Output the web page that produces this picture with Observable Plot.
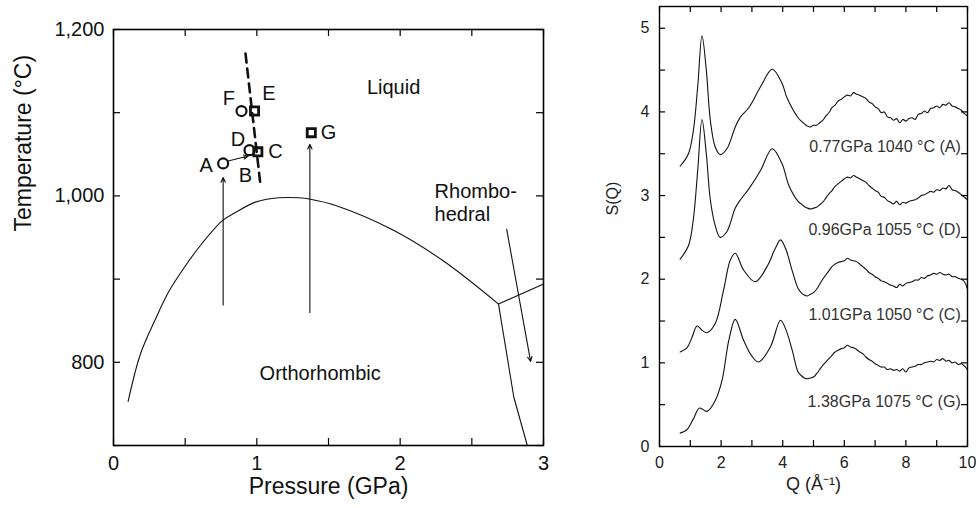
<!DOCTYPE html>
<html><head><meta charset="utf-8">
<script src="https://cdn.jsdelivr.net/npm/d3@7"></script>
<script src="https://cdn.jsdelivr.net/npm/@observablehq/plot@0.6"></script>
<style>
body{margin:0;background:#fff;}
#wrap{position:relative;width:976px;height:508px;overflow:hidden;background:#fff;}
#left{position:absolute;left:0;top:0;}
#right{position:absolute;left:580px;top:0;}
</style></head><body><div id="wrap"><div id="left"></div><div id="right"></div></div>
<script>
// ---------- Left panel data: phase diagram ----------
const meltP = [0.102, 0.188, 0.293, 0.386, 0.502, 0.595, 0.758, 0.851, 0.99, 1.154, 1.293, 1.375, 1.55, 1.95, 2.30, 2.686];
const meltT = [753, 810, 852, 885, 916, 938, 970, 980, 992.5, 997.7, 997.7, 996, 988.5, 959, 922, 870];
const rhomboLiqP = [2.686, 3.0];
const rhomboLiqT = [870, 894];
const orthoRhomboP = [2.686, 2.793, 2.887];
const orthoRhomboT = [870, 758, 700];
const dashP = [0.921, 1.026];
const dashT = [1171, 1012];
const circleP = [0.765, 0.949, 0.893];
const circleT = [1039, 1055, 1102];
const squareP = [1.007, 0.984, 1.38];
const squareT = [1053, 1102, 1076];
const letters = ["A", "B", "C", "D", "E", "F", "G"];
const letterP = [0.647, 0.92, 1.13, 0.868, 1.084, 0.805, 1.50];
const letterT = [1036, 1025, 1053, 1068, 1123, 1117, 1076];
const arrowP1 = [0.765, 1.37, 2.743, 0.80];
const arrowT1 = [869, 860, 960, 1042];
const arrowP2 = [0.765, 1.37, 2.91, 0.94];
const arrowT2 = [1022, 1062, 801, 1048];
const regionNames = ["Liquid", "Orthorhombic"];
const regionP = [1.954, 1.442];
const regionT = [1130, 786];
const pTicks = [0, 1, 2, 3];
const pMinor = [0, 0.5, 1, 1.5, 2, 2.5, 3];
const tTicks = [800, 1000, 1200];
const tMinor = [700, 800, 900, 1000, 1100, 1200];

// ---------- Right panel data: S(Q) ----------
// low-Q part of each curve
const qA_low = [0.67,0.94,1.10,1.24,1.38,1.52,1.65,1.81,1.97,2.19,2.46,2.63,2.90,3.28,3.66,3.98,4.14];
const sA_low = [3.35,3.50,3.78,4.30,4.91,4.50,3.90,3.58,3.49,3.56,3.82,3.94,4.05,4.30,4.51,4.34,4.17];
const qD_low = [0.67,0.94,1.10,1.24,1.38,1.52,1.65,1.81,1.97,2.19,2.46,2.63,2.90,3.28,3.66,3.98,4.2];
const sD_low = [2.24,2.40,2.72,3.30,3.91,3.50,2.95,2.64,2.50,2.57,2.85,2.95,3.08,3.30,3.56,3.38,3.12];
const qC_low = [0.67,0.89,1.05,1.22,1.38,1.54,1.81,2.08,2.30,2.46,2.73,3.11,3.49,3.75,3.93,4.1,4.31];
const sC_low = [1.13,1.18,1.30,1.44,1.39,1.36,1.47,1.87,2.23,2.31,2.11,1.97,2.15,2.36,2.47,2.36,2.10];
const qG_low = [0.67,0.89,1.10,1.30,1.54,1.81,2.03,2.25,2.46,2.73,3.00,3.22,3.60,3.93,4.1,4.31];
const sG_low = [0.16,0.20,0.33,0.46,0.42,0.55,0.79,1.27,1.52,1.27,1.08,1.01,1.19,1.51,1.40,1.15];
// high-Q (noisy) part, read on a common Q grid
const qHigh = [4.5,4.6,4.7,4.8,4.9,5.0,5.1,5.2,5.3,5.4,5.5,5.6,5.7,5.8,5.9,6.0,6.1,6.2,6.3,6.4,6.5,6.6,6.7,6.8,6.9,7.0,7.1,7.2,7.3,7.4,7.5,7.6,7.7,7.8,7.9,8.0,8.1,8.2,8.3,8.4,8.5,8.6,8.7,8.8,8.9,9.0,9.1,9.2,9.3,9.4,9.5,9.6,9.7,9.8,9.9,10.0];
const sA_high = [3.93,3.89,3.86,3.83,3.82,3.84,3.84,3.87,3.90,3.95,3.99,4.05,4.08,4.13,4.15,4.18,4.20,4.19,4.23,4.21,4.20,4.18,4.16,4.12,4.10,4.06,4.04,3.99,4.00,3.94,3.93,3.90,3.92,3.87,3.91,3.89,3.92,3.93,3.91,3.97,3.98,4.01,3.99,4.04,4.05,4.07,4.05,4.09,4.08,4.11,4.07,4.06,4.04,4.02,3.98,3.95];
const sD_high = [2.93,2.90,2.87,2.85,2.84,2.85,2.86,2.89,2.92,2.97,3.02,3.06,3.11,3.14,3.17,3.20,3.22,3.21,3.24,3.22,3.20,3.18,3.16,3.12,3.09,3.06,3.04,2.99,2.98,2.94,2.92,2.90,2.93,2.89,2.92,2.91,2.93,2.94,2.95,2.97,3.00,3.01,3.03,3.05,3.04,3.07,3.06,3.09,3.08,3.12,3.07,3.06,3.04,3.01,2.98,2.95];
const sC_high = [1.89,1.84,1.81,1.80,1.82,1.84,1.88,1.94,2.00,2.05,2.10,2.15,2.18,2.20,2.21,2.22,2.25,2.23,2.22,2.21,2.18,2.15,2.12,2.08,2.06,2.03,2.01,1.98,1.97,1.95,1.93,1.92,1.90,1.94,1.92,1.95,1.96,1.97,1.99,1.99,2.02,2.01,2.04,2.05,2.07,2.06,2.08,2.06,2.05,2.06,2.03,2.03,2.01,2.00,1.97,1.88];
const sG_high = [0.89,0.85,0.82,0.81,0.82,0.83,0.87,0.92,0.97,1.01,1.05,1.09,1.13,1.15,1.17,1.18,1.21,1.19,1.18,1.16,1.13,1.11,1.07,1.04,1.02,0.99,0.97,0.95,0.95,0.92,0.93,0.91,0.92,0.90,0.93,0.89,0.94,0.95,0.96,0.98,0.98,1.00,1.01,1.02,1.01,1.04,1.03,1.05,1.02,1.03,1.00,1.01,0.98,0.99,0.96,0.92];
const curveLabels = ["0.77GPa 1040 °C (A)", "0.96GPa 1055 °C (D)", "1.01GPa 1050 °C (C)", "1.38GPa 1075 °C (G)"];
const labelQ = [9.78, 9.78, 9.78, 9.78];
const labelS = [3.58, 2.59, 1.57, 0.53];
const qTicks = [0, 2, 4, 6, 8, 10];
const qMinor = [0, 1, 2, 3, 4, 5, 6, 7, 8, 9, 10];
const sTicks = [0, 1, 2, 3, 4, 5];
const sMinor = [0, 0.5, 1, 1.5, 2, 2.5, 3, 3.5, 4, 4.5, 5];

const FONT = '"Liberation Sans", Arial, Helvetica, sans-serif';
const zip2 = (a, b) => a.map((v, i) => ({x: v, y: b[i]}));

function innerTicks(xs, ys, w, h, len) {
  return [
    Plot.tickX(xs, {x: d => d, insetTop: h - len, stroke: "#000", strokeWidth: 1.2}),
    Plot.tickX(xs, {x: d => d, insetBottom: h - len, stroke: "#000", strokeWidth: 1.2}),
    Plot.tickY(ys, {y: d => d, insetRight: w - len, stroke: "#000", strokeWidth: 1.2}),
    Plot.tickY(ys, {y: d => d, insetLeft: w - len, stroke: "#000", strokeWidth: 1.2})
  ];
}

// ---------- Left plot ----------
const L = {width: 560, height: 508, ml: 113, mr: 17, mt: 29, mb: 63};
const Lw = L.width - L.ml - L.mr, Lh = L.height - L.mt - L.mb;
const circles = zip2(circleP, circleT);
const squares = zip2(squareP, squareT);
const letterData = letters.map((t, i) => ({t, x: letterP[i], y: letterT[i]}));
const arrows = arrowP1.map((v, i) => ({x1: v, y1: arrowT1[i], x2: arrowP2[i], y2: arrowT2[i]}));
const regions = regionNames.map((t, i) => ({t, x: regionP[i], y: regionT[i]}));

const left = Plot.plot({
  width: L.width, height: L.height,
  marginLeft: L.ml, marginRight: L.mr, marginTop: L.mt, marginBottom: L.mb,
  style: {fontFamily: FONT, fontSize: "20px", color: "#111", background: "#fff"},
  x: {domain: [0, 3], label: null},
  y: {domain: [700, 1200], label: null},
  marks: [
    Plot.line(zip2(meltP, meltT), {x: "x", y: "y", stroke: "#111", strokeWidth: 1.1, curve: "catmull-rom"}),
    Plot.line(zip2(rhomboLiqP, rhomboLiqT), {x: "x", y: "y", stroke: "#111", strokeWidth: 1.1}),
    Plot.line(zip2(orthoRhomboP, orthoRhomboT), {x: "x", y: "y", stroke: "#111", strokeWidth: 1.1}),
    Plot.line(zip2(dashP, dashT), {x: "x", y: "y", stroke: "#111", strokeWidth: 2.6, strokeDasharray: "9,6"}),
    Plot.arrow(arrows, {x1: "x1", y1: "y1", x2: "x2", y2: "y2", stroke: "#111", strokeWidth: 1.1, headLength: 7, headAngle: 50}),
    Plot.dot(circles, {x: "x", y: "y", r: 5, stroke: "#111", strokeWidth: 2.2, fill: "none"}),
    Plot.dot(squares, {x: "x", y: "y", r: 4.6, symbol: "square", stroke: "#111", strokeWidth: 2.8, fill: "none"}),
    Plot.text(letterData, {x: "x", y: "y", text: "t", fontSize: 20, fill: "#111"}),
    Plot.text(regions, {x: "x", y: "y", text: "t", fontSize: 20, fill: "#111"}),
    Plot.text(["Rhombo-\nhedral"], {x: 2.24, y: 992, textAnchor: "start", fontSize: 20, lineHeight: 1.15, fill: "#111"}),
    ...innerTicks(pMinor, tMinor, Lw, Lh, 7),
    Plot.frame({stroke: "#000", strokeWidth: 1.6}),
    Plot.axisX(pTicks, {tickSize: 0, tickPadding: 10, fontSize: 20, fill: "#111", tickFormat: d3.format(",")}),
    Plot.axisY(tTicks, {tickSize: 0, tickPadding: 9, fontSize: 20, fill: "#111", tickFormat: d3.format(",")}),
    Plot.text(["Pressure (GPa)"], {frameAnchor: "bottom", lineAnchor: "middle", dy: 41, fontSize: 23, fill: "#111"}),
    Plot.text(["Temperature (°C)"], {frameAnchor: "left", lineAnchor: "middle", dx: -90, dy: -6, rotate: -90, fontSize: 23, fill: "#111"})
  ]
});
document.getElementById("left").appendChild(left);

// ---------- Right plot ----------
const R = {width: 396, height: 508, ml: 79, mr: 9, mt: 6, mb: 62};
const Rw = R.width - R.ml - R.mr, Rh = R.height - R.mt - R.mb;
const sq = [];
[[qA_low, sA_low, sA_high, "A"], [qD_low, sD_low, sD_high, "D"], [qC_low, sC_low, sC_high, "C"], [qG_low, sG_low, sG_high, "G"]].forEach(([q, s, sh, k]) => {
  q.forEach((v, i) => sq.push({k, q: v, s: s[i]}));
  qHigh.forEach((v, i) => sq.push({k, q: v, s: sh[i]}));
});
const lbls = curveLabels.map((t, i) => ({t, x: labelQ[i], y: labelS[i]}));

const right = Plot.plot({
  width: R.width, height: R.height,
  marginLeft: R.ml, marginRight: R.mr, marginTop: R.mt, marginBottom: R.mb,
  style: {fontFamily: FONT, fontSize: "16px", color: "#222", background: "#fff"},
  x: {domain: [0, 10], label: null},
  y: {domain: [0, 5.26], label: null},
  marks: [
    Plot.line(sq, {x: "q", y: "s", z: "k", stroke: "#111", strokeWidth: 1.1, curve: "catmull-rom"}),
    Plot.text(lbls, {x: "x", y: "y", text: "t", textAnchor: "end", fontSize: 16, fill: "#333"}),
    ...innerTicks(qMinor, sMinor, Rw, Rh, 6),
    Plot.frame({stroke: "#000", strokeWidth: 1.4}),
    Plot.axisX(qTicks, {tickSize: 0, tickPadding: 10, fontSize: 16, fill: "#222", tickFormat: d => String(d)}),
    Plot.axisY(sTicks, {tickSize: 0, tickPadding: 10, fontSize: 16, fill: "#222", tickFormat: d => String(d)}),
    Plot.text(["Q (Å⁻¹)"], {frameAnchor: "bottom", lineAnchor: "middle", dy: 38, fontSize: 18, fill: "#222"}),
    Plot.text(["S(Q)"], {frameAnchor: "left", lineAnchor: "middle", dx: -47, dy: -11, rotate: -90, fontSize: 16, fill: "#222"})
  ]
});
document.getElementById("right").appendChild(right);
</script></body></html>
